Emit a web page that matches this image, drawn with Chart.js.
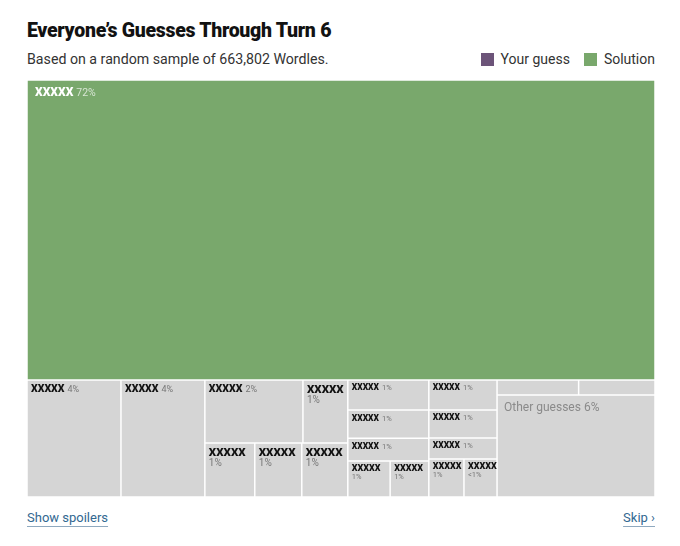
<!DOCTYPE html>
<html>
<head>
<meta charset="utf-8">
<script src="https://cdn.jsdelivr.net/npm/chart.js@4.4.1/dist/chart.umd.min.js"></script>
<style>
  body { margin: 0; background: #fff; font-family: 'Roboto', 'Liberation Sans', sans-serif; }
  #page { position: relative; width: 680px; height: 546px; overflow: hidden; }
  h1 { position: absolute; left: 27px; top: 19px; margin: 0; font-size: 19.5px; line-height: 24px; font-weight: 900; color: #121212; letter-spacing: -0.3px; }
  .sub { position: absolute; left: 27px; top: 50px; font-size: 14.2px; line-height: 18px; color: #333; }
  .legend { position: absolute; right: 25px; top: 50px; font-size: 14px; line-height: 18px; color: #333; display: flex; align-items: center; }
  .legend span.sw { display: inline-block; width: 13px; height: 13px; margin-right: 7px; }
  .legend span.item { display: inline-flex; align-items: center; margin-left: 14px; }
  #box { position: absolute; left: 27px; top: 80px; width: 628px; height: 417px; }
  .link { position: absolute; top: 509px; font-size: 13px; line-height: 18px; color: #326891; text-decoration: underline; text-decoration-color: #8fa9bf; text-underline-offset: 4px; }
</style>
</head>
<body>
<div id="page">
  <h1>Everyone’s Guesses Through Turn 6</h1>
  <div class="sub">Based on a random sample of 663,802 Wordles.</div>
  <div class="legend" id="legend"></div>
  <div id="box"><canvas id="treemap"></canvas></div>
  <div class="link" style="left:27px">Show spoilers</div>
  <div class="link" style="right:25px">Skip ›</div>
</div>
<script>
// Each cell: a word, its share of all guesses (%), and what kind of guess it is
const words = ['XXXXX', 'XXXXX', 'XXXXX', 'XXXXX', 'XXXXX', 'XXXXX', 'XXXXX', 'XXXXX',
               'XXXXX', 'XXXXX', 'XXXXX', 'XXXXX', 'XXXXX',
               'XXXXX', 'XXXXX', 'XXXXX', 'XXXXX', 'XXXXX',
               '', '', 'Other guesses'];
const shares = [71.94, 4.20, 3.75, 2.36, 1.08, 1.03, 0.97, 0.95,
                0.93, 0.87, 0.71, 0.58, 0.53,
                0.78, 0.73, 0.55, 0.51, 0.48,
                0.47, 0.44, 6.15];
const kinds = ['solution', 'other', 'other', 'other', 'other', 'other', 'other', 'other',
               'other', 'other', 'other', 'other', 'other',
               'other', 'other', 'other', 'other', 'other',
               'other', 'other', 'other'];
// How cells nest: 'v' stacks children top to bottom, 'h' puts them side by side
const nesting = ['v', 0,
  ['h', 1, 2,
    ['v', ['h', 3, 4], ['h', 5, 6, 7]],
    ['v', 8, 9, 10, ['h', 11, 12]],
    ['v', 13, 14, 15, ['h', 16, 17]],
    ['v', ['h', 18, 19], 20]]];

const legendLabels = ['Your guess', 'Solution'];
const legendKinds = ['guess', 'solution'];
const kindColors = { solution: '#79a86c', guess: '#6c5479', other: '#d5d5d5' };

// legend
document.getElementById('legend').innerHTML = legendLabels.map((l, i) =>
  '<span class="item"><span class="sw" style="background:' + kindColors[legendKinds[i]] + '"></span>' + l + '</span>'
).join('');

// Layout in data units (0..100 on both axes)
function total(node){
  return Array.isArray(node) ? node.slice(1).reduce((s, n) => s + total(n), 0) : shares[node];
}
function layout(node, x0, y0, x1, y1, out){
  if(!Array.isArray(node)){ out[node] = { x0, y0, x1, y1 }; return; }
  const dir = node[0];
  const sum = total(node);
  let pos = dir === 'h' ? x0 : y1;
  node.slice(1).forEach(k => {
    const f = total(k) / sum;
    if(dir === 'h'){ const w = (x1 - x0) * f; layout(k, pos, y0, pos + w, y1, out); pos += w; }
    else { const h = (y1 - y0) * f; layout(k, x0, pos - h, x1, pos, out); pos -= h; }
  });
}
const boxes = [];
layout(nesting, 0, 0, 100, 100, boxes);
const cells = boxes.map(b => ({ x: (b.x0 + b.x1) / 2, y: (b.y0 + b.y1) / 2, x0: b.x0, x1: b.x1, y0: b.y0, y1: b.y1 }));

// A tiny treemap controller that reuses the bar element
class TreemapController extends Chart.DatasetController {
  update(mode){
    const meta = this._cachedMeta;
    this.updateElements(meta.data, 0, meta.data.length, mode);
  }
  updateElements(rects, start, count, mode){
    const meta = this._cachedMeta;
    const xs = meta.xScale, ys = meta.yScale;
    const data = this.getDataset().data;
    for(let i = start; i < start + count; i++){
      const d = data[i];
      const left = xs.getPixelForValue(d.x0), right = xs.getPixelForValue(d.x1);
      const top = ys.getPixelForValue(d.y1), bottom = ys.getPixelForValue(d.y0);
      this.updateElement(rects[i], i, {
        x: (left + right) / 2, y: top, base: bottom,
        width: right - left, height: bottom - top,
        horizontal: false, inflateAmount: 0, enableBorderRadius: false,
        borderSkipped: { top: false, right: false, bottom: false, left: false },
        options: this.resolveDataElementOptions(i, mode)
      }, mode);
    }
  }
}
TreemapController.id = 'treemap';
TreemapController.defaults = { datasetElementType: false, dataElementType: 'bar' };
TreemapController.overrides = { scales: { x: { type: 'linear' }, y: { type: 'linear' } } };
Chart.register(TreemapController);

function pctText(v){ return v < 0.5 ? '<1%' : Math.round(v) + '%'; }

const SANS = 'Roboto, "Liberation Sans", sans-serif';

function setWord(ctx, size){
  ctx.font = '900 ' + size + 'px ' + SANS;
  return ctx.measureText('XXXXX').width;
}

const cellLabels = {
  id: 'cellLabels',
  afterDatasetsDraw(chart){
    const ctx = chart.ctx;
    chart.getDatasetMeta(0).data.forEach((el, i) => {
      if(!words[i]) return;
      const left = el.x - el.width / 2, top = el.y, w = el.width, h = el.base - el.y;
      const pct = pctText(shares[i]);
      ctx.save();
      ctx.textBaseline = 'alphabetic';
      ctx.textAlign = 'left';
      if(kinds[i] === 'solution'){
        const ww = setWord(ctx, 12);
        ctx.fillStyle = '#fff';
        ctx.fillText(words[i], left + 8, top + 16);
        ctx.font = '10.5px ' + SANS;
        ctx.fillStyle = 'rgba(255,255,255,0.7)';
        ctx.fillText(pct, left + 8 + ww + 3, top + 16);
      } else if(words[i] === 'Other guesses'){
        ctx.font = '12px ' + SANS;
        ctx.fillStyle = '#8a8a8a';
        ctx.fillText(words[i] + ' ' + pct, left + 7, top + 16);
      } else if(w >= 60){
        const tall = h >= 50;
        const ww = setWord(ctx, tall ? 10.5 : 8.5);
        const base = top + (tall ? 12 : 10.5);
        ctx.fillStyle = '#111';
        ctx.fillText(words[i], left + 4, base);
        ctx.font = (tall ? 9 : 7.5) + 'px ' + SANS;
        ctx.fillStyle = '#777';
        ctx.fillText(pct, left + 4 + ww + 3, base);
      } else {
        const tall = h >= 45;
        let size = tall ? 11.5 : 9;
        while(size > 6 && setWord(ctx, size) > w - 4) size -= 0.5;
        setWord(ctx, size);
        ctx.fillStyle = '#111';
        ctx.fillText(words[i], left + 4, top + size + (tall ? 1.5 : 0.5));
        const ps = tall ? 10 : 7.5;
        ctx.font = ps + 'px ' + SANS;
        ctx.fillStyle = '#777';
        ctx.fillText(pct, left + 4, top + size + ps + (tall ? 2 : 1));
      }
      ctx.restore();
    });
  }
};

new Chart(document.getElementById('treemap'), {
  type: 'treemap',
  data: {
    datasets: [{
      data: cells,
      backgroundColor: kinds.map(k => kindColors[k]),
      borderColor: '#ffffff',
      borderWidth: 0.75
    }]
  },
  options: {
    responsive: true,
    maintainAspectRatio: false,
    animation: false,
    layout: { padding: 0 },
    scales: {
      x: { display: false, min: 0, max: 100 },
      y: { display: false, min: 0, max: 100 }
    },
    plugins: { legend: { display: false }, tooltip: { enabled: false } }
  },
  plugins: [cellLabels]
});
</script>
</body>
</html>
